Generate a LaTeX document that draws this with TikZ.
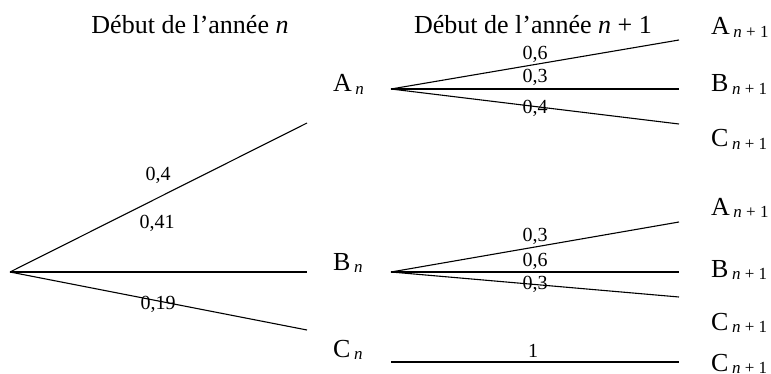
\documentclass[tikz,border=0pt]{standalone}
\usepackage{fontspec}
\setmainfont{Liberation Serif}
\newcommand\sbs[1]{\kern3.5pt\raisebox{-2.5pt}{\fontsize{17}{17}\selectfont #1}}
\tikzset{
  br/.style={line width=1.1pt},
  hbr/.style={line width=1.5pt},
  prob/.style={inner sep=0pt, anchor=base, font=\fontsize{20}{20}\selectfont},
  ev/.style={inner sep=0pt, anchor=base west, font=\fontsize{26}{26}\selectfont},
  ttl/.style={inner sep=0pt, anchor=base, font=\fontsize{26}{26}\selectfont},
}
\begin{document}
\begin{tikzpicture}[x=1pt,y=-1pt]
\useasboundingbox (0,0) rectangle (771,374);
% titles
\node[ttl] (t1) at (190,34) {Début de l’année \textit{n}};
\node[ttl] (t2) at (533,34) {Début de l’année \textit{n} + 1};
% branch points
\coordinate (root) at (10,272);
\coordinate (eA) at (307,123);
\coordinate (eB) at (307,272);
\coordinate (eC) at (307,330);
\coordinate (sA) at (391,89);
\coordinate (aA) at (679,40);
\coordinate (aB) at (679,89);
\coordinate (aC) at (679,124);
\coordinate (sB) at (391,272);
\coordinate (bA) at (679,222);
\coordinate (bB) at (679,272);
\coordinate (bC) at (679,297);
\coordinate (sC) at (391,362);
\coordinate (cC) at (679,362);
% first level
\draw[br] (root) -- (eA);
\draw[hbr] (root) -- (eB);
\draw[br] (root) -- (eC);
% second level
\draw[br] (sA) -- (aA);
\draw[hbr] (sA) -- (aB);
\draw[br] (sA) -- (aC);
\draw[br] (sB) -- (bA);
\draw[hbr] (sB) -- (bB);
\draw[br] (sB) -- (bC);
\draw[hbr] (sC) -- (cC);
% events level 1
\node[ev] (An) at (333,92) {A\sbs{\textit{n}}};
\node[ev] (Bn) at (333,270) {B\sbs{\textit{n}}};
\node[ev] (Cn) at (333,357) {C\sbs{\textit{n}}};
% events level 2
\node[ev] (A1) at (711,35) {A\sbs{\textit{n} + 1}};
\node[ev] (B1) at (711,92) {B\sbs{\textit{n} + 1}};
\node[ev] (C1) at (711,147) {C\sbs{\textit{n} + 1}};
\node[ev] (A2) at (711,215) {A\sbs{\textit{n} + 1}};
\node[ev] (B2) at (711,277) {B\sbs{\textit{n} + 1}};
\node[ev] (C2) at (711,330) {C\sbs{\textit{n} + 1}};
\node[ev] (C3) at (711,371) {C\sbs{\textit{n} + 1}};
% probabilities
\node[prob] (p1) at (158,181) {0,4};
\node[prob] (p2) at (157,229) {0,41};
\node[prob] (p3) at (158,309) {0,19};
\node[prob] (p4) at (535,60) {0,6};
\node[prob] (p5) at (535,83) {0,3};
\node[prob] (p6) at (535,114) {0,4};
\node[prob] (p7) at (535,241) {0,3};
\node[prob] (p8) at (535,266) {0,6};
\node[prob] (p9) at (535,289) {0,3};
\node[prob] (p10) at (533,357) {1};
\end{tikzpicture}
\end{document}
